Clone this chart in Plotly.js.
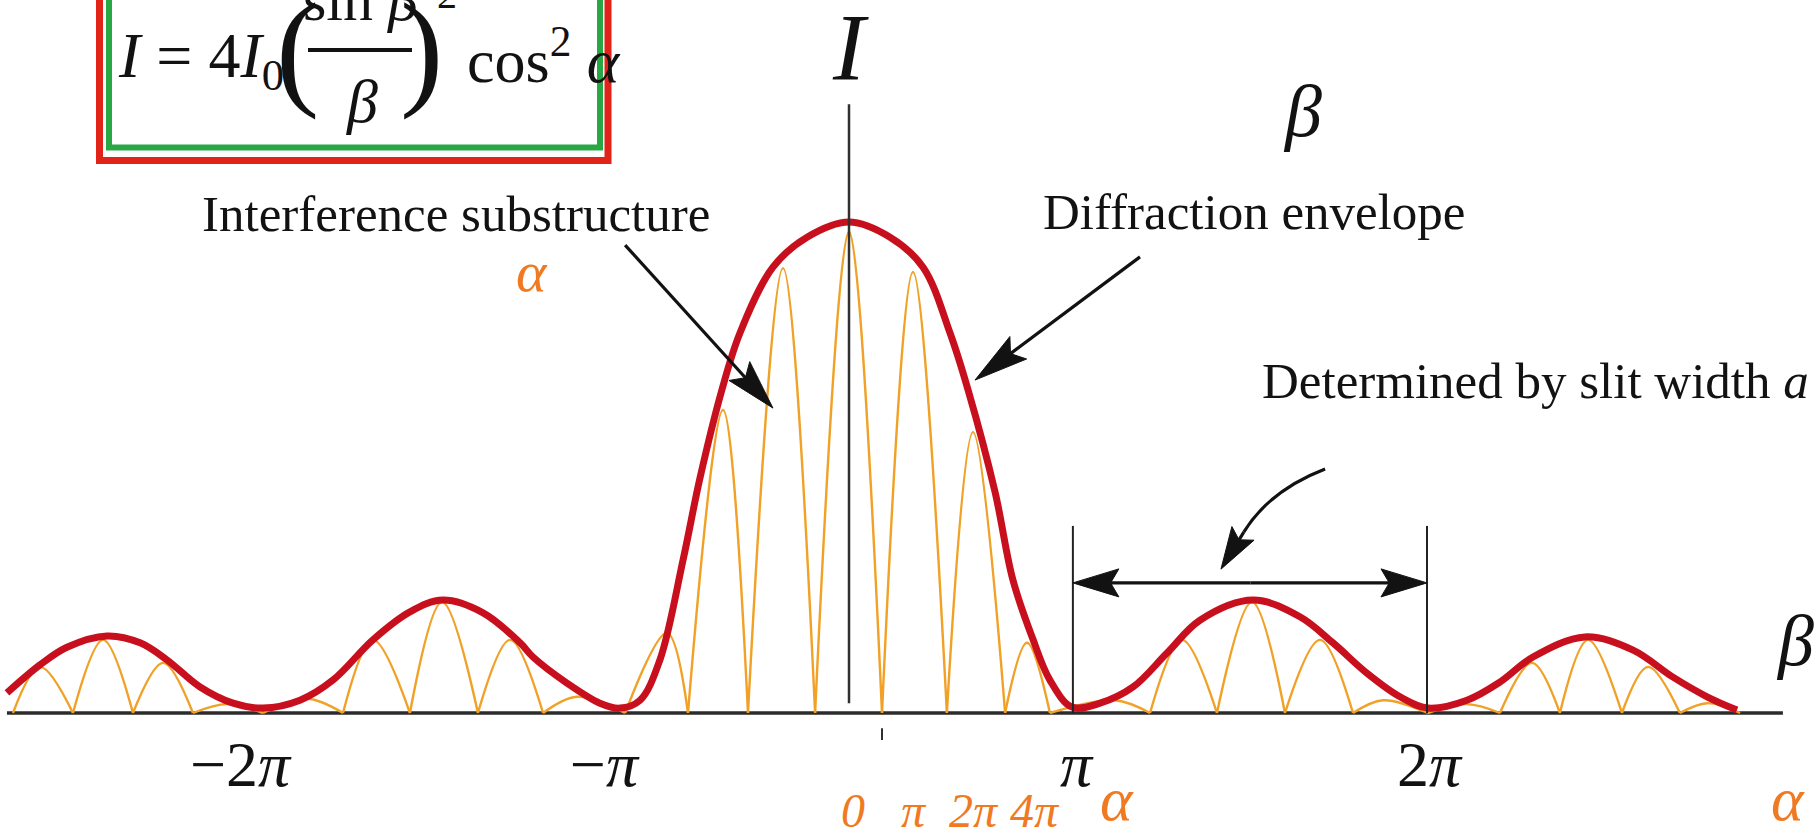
<!DOCTYPE html>
<html>
<head>
<meta charset="utf-8">
<script src="https://cdn.plot.ly/plotly-3.0.1.min.js"></script>
<style>
  html, body { margin: 0; padding: 0; background: #fff; }
  #chart { width: 1814px; height: 833px; }
</style>
</head>
<body>
<div id="chart"></div>
<script>
// Double-slit pattern: I = 4 I0 (sin β / β)^2 cos^2 α
// Horizontal positions are in units of π along the drawn β scale,
// intensities are relative to the central maximum.

// Zeros of the interference term (fringe boundaries)
const fringeZeros = [-3.749, -3.480, -3.211, -2.942, -2.628, -2.269, -1.969, -1.664, -1.372,
  -1.004, -0.722, -0.453, -0.152, 0.148, 0.439, 0.700, 0.901, 1.350, 1.650, 1.955, 2.260,
  2.596, 2.919, 3.188, 3.466, 3.726, 3.996];
// Fringe maxima: position and relative intensity
const fringePeakX = [-3.628, -3.345, -3.076, -2.789, -2.430, -2.135, -1.825, -1.520, -1.220,
  -0.816, -0.565, -0.296, 0.000, 0.287, 0.556, 0.798, 1.193, 1.493, 1.807, 2.112, 2.395,
  2.771, 3.063, 3.314, 3.583, 3.848];
const fringePeakI = [0.094, 0.149, 0.102, 0.018, 0.029, 0.149, 0.226, 0.149, 0.033,
  0.163, 0.617, 0.906, 0.980, 0.898, 0.572, 0.143, 0.026, 0.149, 0.226, 0.149, 0.026,
  0.018, 0.102, 0.149, 0.094, 0.020];

// Single-slit diffraction envelope
const envelopeX = [-3.776, -3.628, -3.507, -3.327, -3.179, -3.058, -2.910, -2.762, -2.628,
  -2.462, -2.314, -2.135, -1.969, -1.821, -1.641, -1.475, -1.417, -1.265, -1.117, -1.027,
  -0.937, -0.848, -0.744, -0.668, -0.570, -0.489, -0.341, -0.188, 0.000, 0.184, 0.332,
  0.453, 0.534, 0.655, 0.735, 0.825, 0.901, 1.000, 1.126, 1.274, 1.426, 1.574, 1.812,
  2.022, 2.170, 2.323, 2.471, 2.596, 2.771, 2.919, 3.067, 3.300, 3.516, 3.695, 3.848, 3.982];
const envelopeI = [0.041, 0.098, 0.134, 0.157, 0.143, 0.108, 0.053, 0.020, 0.010,
  0.026, 0.067, 0.149, 0.206, 0.230, 0.204, 0.143, 0.114, 0.061, 0.020, 0.010,
  0.026, 0.108, 0.312, 0.479, 0.658, 0.774, 0.908, 0.969, 1.000, 0.969, 0.908,
  0.774, 0.658, 0.450, 0.271, 0.150, 0.067, 0.012, 0.020, 0.053, 0.122, 0.189, 0.230,
  0.196, 0.143, 0.081, 0.033, 0.010, 0.026, 0.063, 0.114, 0.155, 0.128, 0.073, 0.033, 0.006];

// β axis labels
const betaTickVals = [-2.731, -1.099, 1.018, 2.601];
const betaTickText = ['\u22122<i>\u03c0</i>', '\u2212<i>\u03c0</i>', '<i>\u03c0</i>', '2<i>\u03c0</i>'];
// α scale labels
const alphaTickText = ['0', '\u03c0', '2\u03c0', '4\u03c0'];

// ---------------------------------------------------------------------------
const W = 1814, H = 833;
const X0 = -3.8072, X1 = 4.3274, Y0 = -0.2444, Y1 = 1.4521;
const INK = '#121212';
const ORANGE_TXT = '#f07a22';
const serif = 'Liberation Serif, Times New Roman, serif';

// paper coordinates from page pixels
const hx = v => v / W;
const hy = v => 1 - v / H;
// data <-> pixel on the linear axes
const toPx = (x, y) => [(x - X0) / (X1 - X0) * W, (Y1 - y) / (Y1 - Y0) * H];
const toData = (px, py) => [X0 + px / W * (X1 - X0), Y1 - py / H * (Y1 - Y0)];

// fringes: each one is its own zero-peak-zero segment so the minima stay sharp
const fringeX = [], fringeY = [];
for (let i = 0; i < fringePeakX.length; i++) {
  fringeX.push(fringeZeros[i], fringePeakX[i], fringeZeros[i + 1], null);
  fringeY.push(0, fringePeakI[i], 0, null);
}

const traces = [
  {
    x: fringeX, y: fringeY, type: 'scatter', mode: 'lines',
    line: { color: '#f0a126', width: 2.4, shape: 'spline', smoothing: 1 },
    connectgaps: false, hoverinfo: 'skip'
  },
  {
    x: envelopeX, y: envelopeI, type: 'scatter', mode: 'lines',
    line: { color: '#c80f1e', width: 7, shape: 'spline', smoothing: 1 },
    hoverinfo: 'skip'
  }
];

// straight arrow with a slim filled head, built on the data axes
function arrowShapes(from, to, len, half) {
  const a = toPx(from[0], from[1]), b = toPx(to[0], to[1]);
  const d = Math.hypot(b[0] - a[0], b[1] - a[1]);
  const ux = (b[0] - a[0]) / d, uy = (b[1] - a[1]) / d;
  const base = [b[0] - ux * len, b[1] - uy * len];
  const notch = toData(b[0] - ux * len * 0.82, b[1] - uy * len * 0.82);
  const left = toData(base[0] - uy * half, base[1] + ux * half);
  const right = toData(base[0] + uy * half, base[1] - ux * half);
  const f = v => v.toFixed(5);
  return [
    { type: 'line', xref: 'x', yref: 'y', x0: from[0], y0: from[1], x1: notch[0], y1: notch[1],
      line: { color: INK, width: 3.2 } },
    { type: 'path', xref: 'x', yref: 'y',
      path: `M${f(to[0])},${f(to[1])}L${f(left[0])},${f(left[1])}L${f(notch[0])},${f(notch[1])}L${f(right[0])},${f(right[1])}Z`,
      fillcolor: INK, line: { color: INK, width: 1 } }
  ];
}

const shapes = [
  // β axis
  { type: 'line', xref: 'x', yref: 'y', x0: -3.776, x1: 4.188, y0: 0, y1: 0,
    line: { color: '#2b2b2b', width: 3.5 }, layer: 'below' },
  // I axis
  { type: 'line', xref: 'x', yref: 'y', x0: 0, x1: 0, y0: 0.020, y1: 1.240,
    line: { color: '#303030', width: 2.5 } },
  // small mark below the axis
  { type: 'line', xref: 'x', yref: 'y', x0: 0.148, x1: 0.148, y0: -0.031, y1: -0.055,
    line: { color: '#303030', width: 2 } },
  // markers of the first side lobe
  { type: 'line', xref: 'x', yref: 'y', x0: 1.004, x1: 1.004, y0: 0, y1: 0.381,
    line: { color: '#222', width: 2 } },
  { type: 'line', xref: 'x', yref: 'y', x0: 2.592, x1: 2.592, y0: 0, y1: 0.381,
    line: { color: '#222', width: 2 } },
  // curved pointer to the double arrow
  { type: 'path', xref: 'x', yref: 'y', path: 'M2.135,0.497 Q1.888,0.454 1.771,0.369',
    line: { color: INK, width: 3.2 } },
  // formula frame
  { type: 'rect', xref: 'paper', yref: 'paper', x0: hx(99.5), x1: hx(608), y0: hy(160.5), y1: hy(-20),
    line: { color: '#e2231a', width: 7 } },
  { type: 'rect', xref: 'paper', yref: 'paper', x0: hx(109), x1: hx(600), y0: hy(147.5), y1: hy(-20),
    line: { color: '#27a845', width: 6 } },
  // fraction bar
  { type: 'line', xref: 'paper', yref: 'paper', x0: hx(308), x1: hx(412), y0: hy(50), y1: hy(50),
    line: { color: INK, width: 4 } },
  ...arrowShapes([-1.004, 0.953], [-0.341, 0.621], 50, 14),
  ...arrowShapes([1.305, 0.929], [0.565, 0.678], 54, 14),
  ...arrowShapes([1.80, 0.265], [2.592, 0.265], 46, 14),
  ...arrowShapes([1.80, 0.265], [1.004, 0.265], 46, 14),
  ...arrowShapes([1.771, 0.369], [1.668, 0.293], 42, 13)
];

function label(text, x, y, size, opts) {
  return Object.assign({
    xref: 'paper', yref: 'paper', x: hx(x), y: hy(y), text: text, showarrow: false,
    xanchor: 'center', yanchor: 'middle',
    font: { family: serif, size: size, color: INK }
  }, opts || {});
}
const orange = size => ({ font: { family: serif, size: size, color: ORANGE_TXT } });

const alphaX = [853, 914, 974, 1035];
const annotations = [
  // formula
  label('<i>I</i>\u00a0=\u00a04<i>I</i><sub>0</sub>', 116, 60, 64, { xanchor: 'left' }),
  label('(', 297, 48, 130),
  label(')', 421, 48, 130),
  label('sin\u00a0<i>\u03b2</i>', 360, 0, 60),
  label('<i>\u03b2</i>', 362, 101, 62),
  label('2', 447, -6, 40),
  label('cos<sup>2</sup>\u00a0<i>\u03b1</i>', 465, 56, 62, { xanchor: 'left' }),
  // axis names
  label('<i>I</i>', 850, 48, 96),
  label('<i>\u03b2</i>', 1302, 111, 74),
  label('<i>\u03b2</i>', 1795, 641, 72),
  // callouts
  label('Interference substructure', 456, 214, 51),
  label('Diffraction envelope', 1254, 212, 51),
  label('Determined by slit width <i>a</i>', 1811, 381, 51, { xanchor: 'right' }),
  // α scale
  label('<i>\u03b1</i>', 532, 272, 58, orange(58)),
  ...alphaTickText.map((t, i) => label('<i>' + t + '</i>', alphaX[i], 810, 48, orange(48))),
  label('<i>\u03b1</i>', 1117, 799, 62, orange(62)),
  label('<i>\u03b1</i>', 1788, 799, 62, orange(62))
];

const layout = {
  width: W, height: H,
  margin: { l: 0, r: 0, t: 0, b: 0, pad: 0 },
  paper_bgcolor: '#fff', plot_bgcolor: '#fff',
  showlegend: false,
  xaxis: {
    range: [X0, X1], showgrid: false, zeroline: false, showline: false,
    ticks: '', tickvals: betaTickVals, ticktext: betaTickText,
    tickfont: { family: serif, size: 64, color: INK },
    anchor: 'free', position: 1 - 713 / H, ticklabelstandoff: 8,
    fixedrange: true
  },
  yaxis: {
    range: [Y0, Y1], visible: false, showgrid: false, zeroline: false, fixedrange: true
  },
  shapes: shapes,
  annotations: annotations
};

Plotly.newPlot('chart', traces, layout, { staticPlot: true, displayModeBar: false });
</script>
</body>
</html>
